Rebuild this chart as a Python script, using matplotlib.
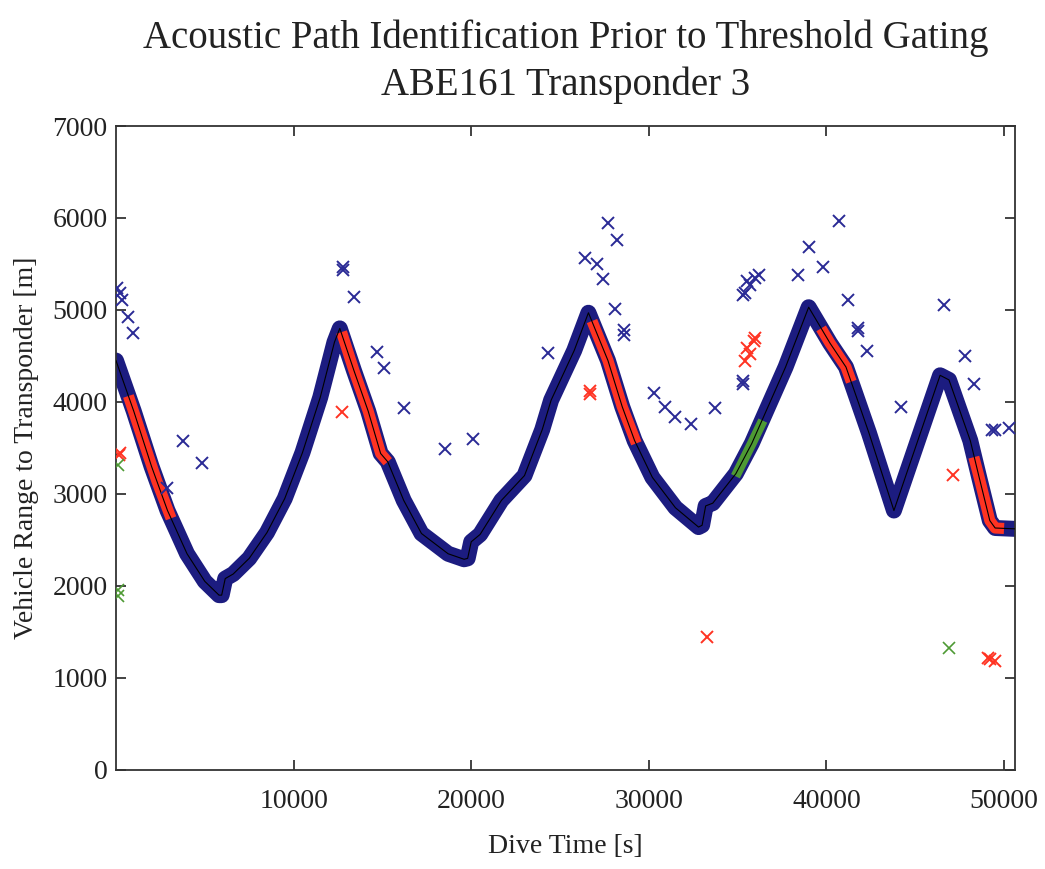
import matplotlib.pyplot as plt

plt.rcParams['font.family'] = ['Liberation Serif', 'DejaVu Serif']

# main range track (dive time [s], range [m])
path_x = [0, 1000, 2000, 2900, 4000, 5000, 5800, 5950, 6150, 6600, 7500, 8500, 9500,
          10500, 11500, 12300, 12600, 13400, 14200, 14900, 15300, 16200, 17200, 18700,
          19600, 19800, 20000, 20500, 21700, 23000, 24000, 24500, 25800, 26600, 27700,
          28500, 29200, 30200, 31500, 32800, 33000, 33200, 33600, 34900, 35800, 37700,
          39000, 40200, 41100, 41500, 42400, 43800, 46400, 46900, 48100, 48600, 49200,
          49500, 50700]
path_y = [4450, 3900, 3300, 2820, 2350, 2050, 1900, 1900, 2080, 2130, 2300, 2580, 2950,
          3450, 4050, 4650, 4800, 4340, 3900, 3440, 3350, 2930, 2570, 2350,
          2290, 2300, 2480, 2560, 2930, 3200, 3700, 4020, 4560, 4970, 4450,
          3950, 3580, 3180, 2850, 2640, 2660, 2870, 2900, 3220, 3550, 4380,
          5030, 4640, 4380, 4160, 3660, 2820, 4290, 4240, 3580, 3180, 2710,
          2630, 2620]

# segments tagged as other paths along the track
red_segs = [
    ([700, 1500, 2300, 3100], [4065, 3600, 3140, 2735]),
    ([12700, 13400, 14200, 14900, 15300], [4760, 4340, 3900, 3440, 3350]),
    ([26800, 27700, 28500, 29300], [4880, 4450, 3950, 3550]),
    ([39700, 40200, 41100, 41400], [4800, 4640, 4380, 4220]),
    ([48300, 48600, 49200, 49500, 50000], [3400, 3180, 2710, 2630, 2625]),
]
green_seg = ([35000, 35800, 36300], [3240, 3550, 3750])

# scattered returns
blue_x = [50, 230, 340, 680, 960, 3800, 4860, 2880, 12800, 12800, 13400, 14700, 15100,
          16200, 18500, 20100, 24300, 26400, 27100, 27400, 27700, 28200, 28100, 28600,
          28600, 30300, 30900, 31500, 32400, 33700, 35300, 35400, 35500, 35700, 36000,
          36200, 35300, 35300, 38400, 39000, 39800, 40700, 41200, 41800, 41800, 42300,
          44200, 46600, 47800, 48300, 49300, 49500, 50300]
blue_y = [5240, 5190, 5110, 4920, 4750, 3580, 3340, 3070, 5470, 5440, 5140, 4540, 4370,
          3930, 3490, 3600, 4530, 5560, 5500, 5340, 5950, 5760, 5010, 4780,
          4730, 4100, 3940, 3840, 3760, 3930, 5160, 5180, 5310, 5270, 5350,
          5380, 4200, 4230, 5380, 5690, 5470, 5970, 5110, 4800, 4770, 4550,
          3940, 5050, 4500, 4200, 3700, 3690, 3720]
red_x = [230, 150, 12750, 26700, 26700, 35400, 35500, 35900, 36000, 35700, 47100,
         33300, 49200, 49100, 49500]
red_y = [3450, 3420, 3890, 4120, 4090, 4450, 4590, 4660, 4700, 4520, 3210,
         1450, 1210, 1220, 1180]
green_x = [100, 100, 100, 46900]
green_y = [3310, 1960, 1890, 1330]

navy = '#1c1c80'
red = '#ff3322'
green = '#4e9a34'

fig = plt.figure(figsize=(10.45, 8.69), dpi=100)
ax = fig.add_axes([0.111, 0.114, 0.86, 0.741])

ax.plot(path_x, path_y, color=navy, lw=11.5, solid_joinstyle='round',
        solid_capstyle='round', zorder=2)
for sx, sy in red_segs:
    ax.plot(sx, sy, color=red, lw=8, solid_capstyle='butt', zorder=3)
ax.plot(green_seg[0], green_seg[1], color=green, lw=7, zorder=3)
ax.plot(path_x, path_y, color='black', lw=0.8, zorder=4)

ax.plot(blue_x, blue_y, 'x', color='#2a2a95', ms=8, mew=1.4, zorder=5)
ax.plot(red_x, red_y, 'x', color=red, ms=8, mew=1.4, zorder=5)
ax.plot(green_x, green_y, 'x', color=green, ms=8, mew=1.2, zorder=5)

ax.set_xlim(0, 50600)
ax.set_ylim(0, 7000)
ax.set_xticks([10000, 20000, 30000, 40000, 50000])
ax.set_yticks(range(0, 7001, 1000))
ax.tick_params(direction='in', length=7, width=1.2, top=True, right=True,
               labelsize=20, colors='#222222')
ax.tick_params(axis='x', pad=14)
ax.tick_params(axis='y', pad=6)
for s in ax.spines.values():
    s.set_linewidth(1.3)
    s.set_color('#333333')

ax.set_xlabel('Dive Time [s]', fontsize=20, color='#222222', labelpad=14)
ax.set_ylabel('Vehicle Range to Transponder [m]', fontsize=20, color='#222222', labelpad=10)
ax.set_title('Acoustic Path Identification Prior to Threshold Gating\nABE161 Transponder 3',
             fontsize=28, color='#222222', pad=22, linespacing=1.35)

fig.savefig('out.png', dpi=100)
